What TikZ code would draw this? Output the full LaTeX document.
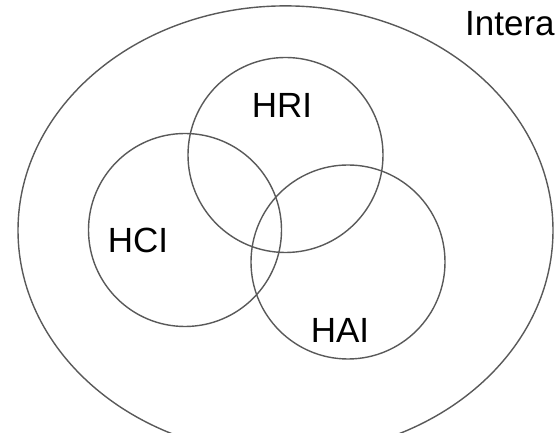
\documentclass[tikz,border=0pt]{standalone}
\usepackage{fontspec}
\setmainfont{Liberation Sans}
\usepackage{tikz}
\usetikzlibrary{shapes.geometric}

\begin{document}
\begin{tikzpicture}[
  x=1pt, y=1pt,
  ring/.style={draw=black!65, line width=1.4pt, circle, inner sep=0pt},
  field/.style={draw=black!65, line width=1.4pt, ellipse, inner sep=0pt},
  label/.style={inner sep=0pt, font=\fontsize{35}{42}\selectfont}
]
\clip (0,0) rectangle (557,433);
\node[field, minimum width=535pt, minimum height=449pt] (inter) at (285.5,202.6) {};
\node[ring, minimum size=195pt] (hri) at (285.5,278) {};
\node[ring, minimum size=193pt] (hci) at (185,203) {};
\node[ring, minimum size=194pt] (hai) at (348,171) {};
\node[label] (hrilbl) at (282,328) {HRI};
\node[label] (hcilbl) at (138,193) {HCI};
\node[label] (hailbl) at (340,103) {HAI};
\node[label, anchor=base west] (interlbl) at (465,397) {Intera};
\end{tikzpicture}
\end{document}
